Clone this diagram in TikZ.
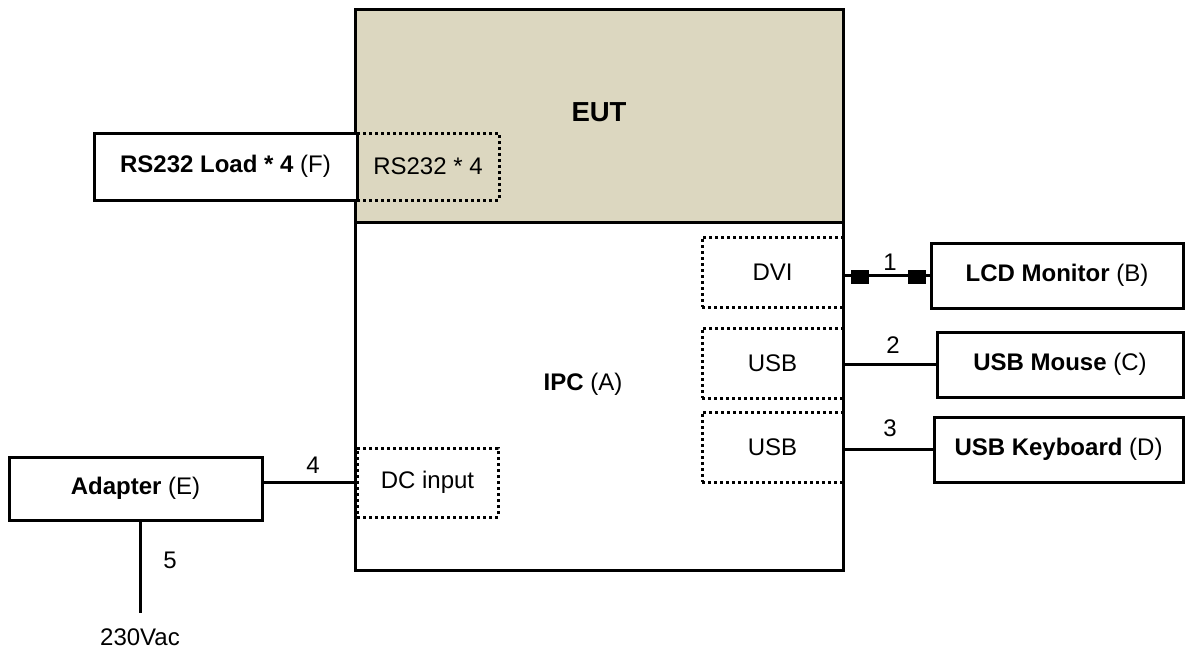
\documentclass[tikz,border=0pt]{standalone}
\usepackage{fontspec}
\setmainfont{Liberation Sans}
\definecolor{eutfill}{RGB}{220,215,192}
\begin{document}
\begin{tikzpicture}[x=1pt,y=-1pt,
  txt/.style={font=\fontsize{24}{28}\selectfont},
  box/.style={draw, line width=3pt, rectangle, inner sep=0pt, txt},
  port/.style={draw, line width=3pt, dash pattern=on 3pt off 3pt, rectangle, inner sep=0pt, txt},
  wire/.style={line width=3pt},
  plug/.style={fill=black, rectangle, inner sep=0pt, minimum width=18pt, minimum height=14pt}]
\useasboundingbox (0,0) rectangle (1186,648);
% main boxes
\node[box, fill=eutfill, minimum width=488pt, minimum height=213pt] (eut) at (599,115.5) {};
\node[font=\fontsize{27.5}{32}\selectfont\bfseries] (eutlabel) at (599,112) {EUT};
\node[box, minimum width=488pt, minimum height=348pt] (ipc) at (599,396) {};
\node[txt] (ipclabel) at (583,384) {\textbf{IPC} (A)};
% ports
\node[port, minimum width=142pt, minimum height=67pt] (rsport) at (428,166.5) {RS232 * 4};
\node[port, minimum width=141pt, minimum height=70pt] (dvi) at (772.5,272) {DVI};
\node[port, minimum width=141pt, minimum height=70pt] (usba) at (772.5,363) {USB};
\node[port, minimum width=141pt, minimum height=70pt] (usbb) at (772.5,447) {USB};
\node[port, minimum width=141pt, minimum height=69pt] (dc) at (427.5,482.5) {DC input};
% peripherals
\node[box, fill=white, minimum width=263pt, minimum height=67pt] (rsload) at (225.5,166.5) {\textbf{RS232 Load * 4} (F)};
\node[box, fill=white, minimum width=252pt, minimum height=65pt] (lcd) at (1057,275.5) {\textbf{LCD Monitor} (B)};
\node[box, fill=white, minimum width=246pt, minimum height=65pt] (mouse) at (1060,364.5) {\textbf{USB Mouse} (C)};
\node[box, fill=white, minimum width=249pt, minimum height=65pt] (kbd) at (1058.5,449.5) {\textbf{USB Keyboard} (D)};
\node[box, fill=white, minimum width=253pt, minimum height=63pt] (adapter) at (135.5,488.5) {\textbf{Adapter} (E)};
% connectors
\draw[wire] (lcd.west -| ipc.east) -- (lcd.west);
\node[plug] (plugA) at (860,276.5) {};
\node[plug] (plugB) at (917,276.5) {};
\draw[wire] (mouse.west -| ipc.east) -- (mouse.west);
\draw[wire] (kbd.west -| ipc.east) -- (kbd.west);
\draw[wire] (adapter.east |- dc.west) -- (dc.west);
\coordinate (ac) at (140,613);
\draw[wire] (adapter.south -| ac) -- (ac);
% labels
\node[txt] (n1) at (890,262) {1};
\node[txt] (n2) at (893,345) {2};
\node[txt] (n3) at (890,428) {3};
\node[txt] (n4) at (313,465) {4};
\node[txt] (n5) at (170,560) {5};
\node[txt] (vac) at (140,637) {230Vac};
\end{tikzpicture}
\end{document}
